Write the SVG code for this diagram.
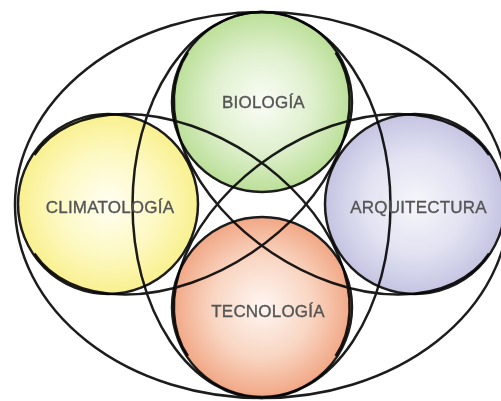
<svg xmlns="http://www.w3.org/2000/svg" width="501" height="401" viewBox="0 0 501 401">
<defs>
<radialGradient id="gGreen" cx="50%" cy="50%" r="50%">
<stop offset="0" stop-color="#fafdf6"/><stop offset="0.55" stop-color="#e0f0cf"/><stop offset="1" stop-color="#bbdf98"/>
</radialGradient>
<radialGradient id="gYellow" cx="50%" cy="50%" r="50%">
<stop offset="0" stop-color="#fffef2"/><stop offset="0.55" stop-color="#fdf9c4"/><stop offset="1" stop-color="#f9f08e"/>
</radialGradient>
<radialGradient id="gPurple" cx="50%" cy="50%" r="50%">
<stop offset="0" stop-color="#f6f6fb"/><stop offset="0.55" stop-color="#e2e2f2"/><stop offset="1" stop-color="#c4c4e2"/>
</radialGradient>
<radialGradient id="gOrange" cx="50%" cy="50%" r="50%">
<stop offset="0" stop-color="#fef6f2"/><stop offset="0.55" stop-color="#f9d6c3"/><stop offset="1" stop-color="#f1a785"/>
</radialGradient>
<filter id="soft" x="-5%" y="-5%" width="110%" height="110%"><feGaussianBlur stdDeviation="0.6"/></filter>
</defs>
<style>
.ring{fill:none;stroke:#1c1c1c;stroke-width:2.5}
.disc{stroke:#1c1c1c;stroke-width:2.5;mix-blend-mode:multiply}
.label{font-family:"Liberation Sans",Arial,sans-serif;font-size:17px;fill:#555555;stroke:#555555;stroke-width:0.35;text-anchor:middle;letter-spacing:0.2px}
</style>
<rect width="501" height="401" fill="#ffffff"/>
<g id="connectors" filter="url(#soft)">
<ellipse class="ring" cx="262" cy="205" rx="247" ry="193"/>
<ellipse class="ring" cx="261.5" cy="205" rx="129" ry="193"/>
<path class="ring" d="M34.4 155 A181 120 33.7 0 1 335.6 356"/>
<path class="ring" d="M187.9 52.5 A181 120 33.7 0 0 489.1 253.5"/>
<path class="ring" d="M34.4 253.5 A181 120 -33.7 0 0 335.6 52.5"/>
<path class="ring" d="M187.9 356 A181 120 -33.7 0 1 489.1 155"/>
</g>
<g id="biologia">
<circle class="disc" cx="262" cy="102" r="90" fill="url(#gGreen)"/>
<text class="label" x="263.5" y="108">BIOLOGÍA</text>
</g>
<g id="climatologia">
<circle class="disc" cx="108" cy="204" r="90" fill="url(#gYellow)"/>
<text class="label" x="110" y="213">CLIMATOLOGÍA</text>
</g>
<g id="arquitectura">
<circle class="disc" cx="415" cy="204" r="90" fill="url(#gPurple)"/>
<text class="label" x="418.5" y="213">ARQUITECTURA</text>
</g>
<g id="tecnologia">
<circle class="disc" cx="262" cy="307" r="90" fill="url(#gOrange)"/>
<text class="label" x="268" y="317">TECNOLOGÍA</text>
</g>
</svg>
